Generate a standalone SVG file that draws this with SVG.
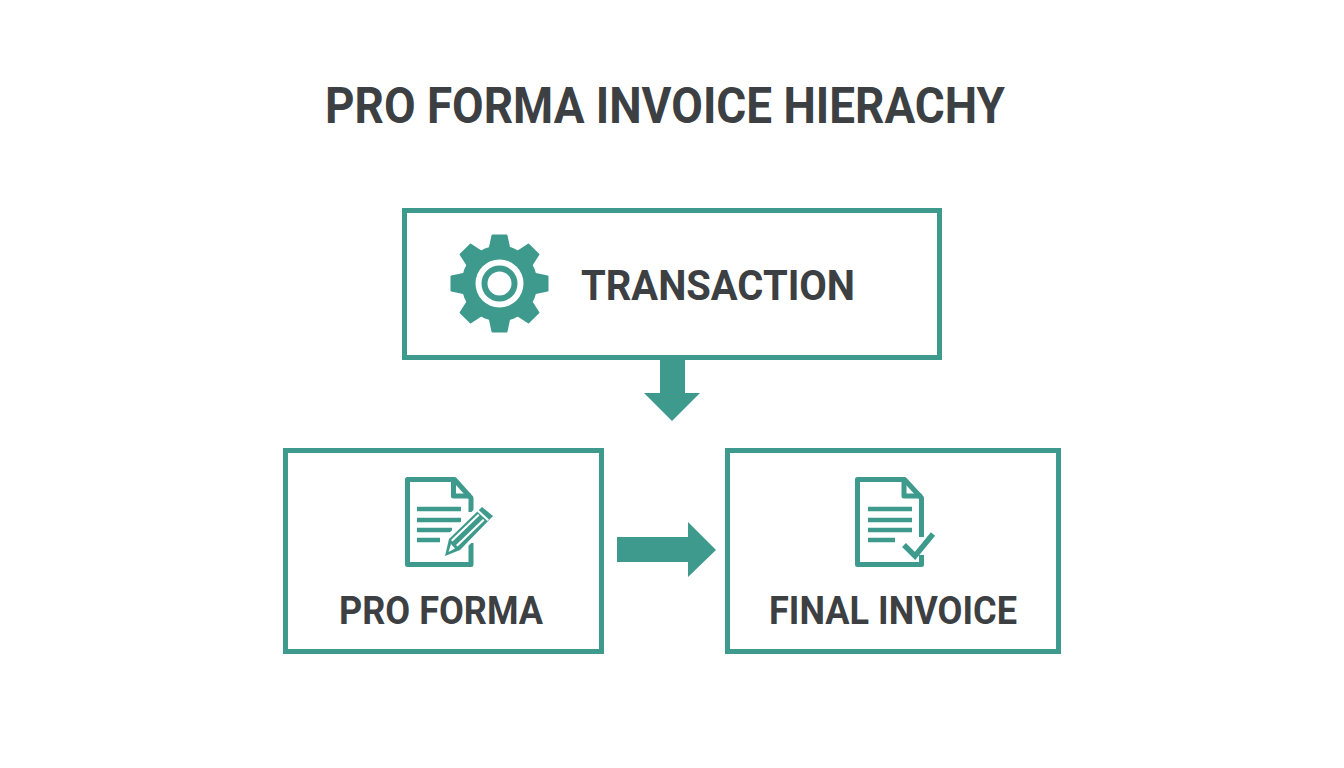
<svg xmlns="http://www.w3.org/2000/svg" xmlns:xlink="http://www.w3.org/1999/xlink" width="1344" height="768" viewBox="0 0 1344 768">
<style>
.box{fill:#fff;stroke:#3d9a8c;stroke-width:5}
.fill{fill:#3d9a8c}
.line{fill:none;stroke:#3d9a8c;stroke-width:5;stroke-linejoin:round}
.bar{stroke:#3d9a8c;stroke-width:4.500;fill:none}
text{font-family:"Roboto","Noto Sans","Liberation Sans",sans-serif;font-weight:700;fill:#3c4043;text-anchor:middle}
</style>
<defs>
<path id="tooth" d="M492.500 235.500H506.500L510 252H489Z" stroke="#3d9a8c" stroke-width="2" stroke-linejoin="round"/>
</defs>
<rect width="1344" height="768" fill="#fff"/>
<text id="title" x="665" y="123" font-size="50" textLength="680" lengthAdjust="spacingAndGlyphs">PRO FORMA INVOICE HIERACHY</text>
<g id="connectors" class="fill">
<path d="M660 358H685V393H700L672 421L644 393H660Z"/>
<path d="M617 537H688V522L716 550L688 577V562H617Z"/>
</g>
<g id="transaction">
<rect class="box" x="404.500" y="210.500" width="535" height="147"/>
<g id="gear" class="fill">
<use xlink:href="#tooth"/>
<use xlink:href="#tooth" transform="rotate(45 499.500 283.500)"/>
<use xlink:href="#tooth" transform="rotate(90 499.500 283.500)"/>
<use xlink:href="#tooth" transform="rotate(135 499.500 283.500)"/>
<use xlink:href="#tooth" transform="rotate(180 499.500 283.500)"/>
<use xlink:href="#tooth" transform="rotate(225 499.500 283.500)"/>
<use xlink:href="#tooth" transform="rotate(270 499.500 283.500)"/>
<use xlink:href="#tooth" transform="rotate(315 499.500 283.500)"/>
<circle cx="499.500" cy="283.500" r="38"/>
<circle cx="499.500" cy="283.500" r="24" fill="#fff"/>
<circle cx="499.500" cy="283.500" r="18"/>
<circle cx="499.500" cy="283.500" r="12" fill="#fff"/>
</g>
<text x="718" y="300" font-size="43" textLength="274" lengthAdjust="spacingAndGlyphs">TRANSACTION</text>
</g>
<g id="pro-forma">
<rect class="box" x="285.500" y="450.500" width="316" height="201"/>
<g id="doc-pencil">
<path class="line" d="M471 512V498L454.500 479.500H407.500V564.500H471V543"/>
<path class="line" d="M453.500 479.500V496H471"/>
<path class="bar" d="M417 509H461M417 520H461M417 530H452M417 540H440"/>
<path fill="#fff" d="M441 559L446 536L482 502L498 517L462 552Z"/>
<path class="fill" d="M445 556L449 539L482 507L493 516L460 550Z"/>
<path fill="#fff" d="M451 540L478 514L479.500 515.500L452.500 541.500ZM456 545L483 519L484.500 520.500L457.500 546.500Z"/>
<path fill="#fff" d="M448.500 552L451 544L455 548.500Z"/>
<path fill="#fff" d="M476 510.500L477.500 509L489 519.500L487.500 521Z"/>
</g>
<text x="441" y="624" font-size="38" textLength="204" lengthAdjust="spacingAndGlyphs">PRO FORMA</text>
</g>
<g id="final-invoice">
<rect class="box" x="727.500" y="450.500" width="331" height="201"/>
<g id="doc-check">
<path class="line" d="M921.500 537V498L904.500 479.500H857.500V564.500H921.500V555"/>
<path class="line" d="M904 479.500V496H921.500"/>
<path class="bar" d="M868 509H912M868 520H912M868 530H912M868 540H895"/>
<path fill="none" stroke="#3d9a8c" stroke-width="5.500" d="M904 545L915 556L933 534"/>
</g>
<text x="893" y="624" font-size="38" textLength="248" lengthAdjust="spacingAndGlyphs">FINAL INVOICE</text>
</g>
</svg>
